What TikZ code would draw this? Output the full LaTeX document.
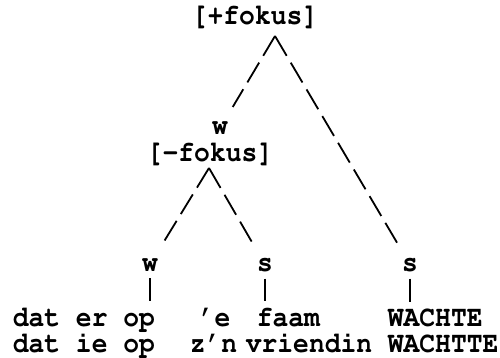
\documentclass[tikz,border=0pt]{standalone}
\usepackage[T1]{fontenc}
\usepackage{courier}
\usepackage{tikz}
\tikzset{every picture/.style={line width=1.8pt}}
\tikzset{lbl/.style={font=\fontsize{26.3}{30}\selectfont\ttfamily\bfseries, inner sep=0pt, yscale=1.12}}
\tikzset{branch/.style={dash pattern=on 23pt off 8pt, shorten >=16pt}}
\tikzset{stem/.style={shorten <=6pt, shorten >=6pt}}

\begin{document}
\begin{tikzpicture}[x=1pt,y=-1pt]
\useasboundingbox (0,0) rectangle (500,358);
% tree labels
\node[lbl, anchor=base] (pf) at (255,25) {[+fokus]};
\node[lbl, anchor=base] (w1) at (220,135) {w};
\node[lbl, anchor=base] (mf) at (210,161) {[-fokus]};
\node[lbl, anchor=base] (w2) at (150,271) {w};
\node[lbl, anchor=base] (s1) at (265,271) {s};
\node[lbl, anchor=base] (s2) at (410,271) {s};
% the two sentences
\node[lbl, anchor=base west] (l1a) at (12,326.5) {dat er op};
\node[lbl, anchor=base west] (l1b) at (198,326.5) {'e};
\node[lbl, anchor=base west] (l1c) at (256,326.5) {faam};
\node[lbl, anchor=base west] (l1d) at (387,326.5) {WACHTE};
\node[lbl, anchor=base west] (l2a) at (12,352.5) {dat ie op};
\node[lbl, anchor=base west] (l2b) at (189,352.5) {z'n};
\node[lbl, anchor=base west] (l2c) at (245,352.5) {vriendin};
\node[lbl, anchor=base west] (l2d) at (387,352.5) {WACHTTE};
% branches
\coordinate (top) at (275,36);
\coordinate (mid) at (209,168);
\draw[branch] (top) -- (w1);
\draw[branch] (top) -- (s2);
\draw[branch] (mid) -- (w2);
\draw[branch] (mid) -- (s1);
\draw[stem] (w2) -- (w2 |- l1a.north);
\draw[stem] (s1) -- (s1 |- l1c.north);
\draw[stem] (s2) -- (s2 |- l1d.north);
\end{tikzpicture}
\end{document}
